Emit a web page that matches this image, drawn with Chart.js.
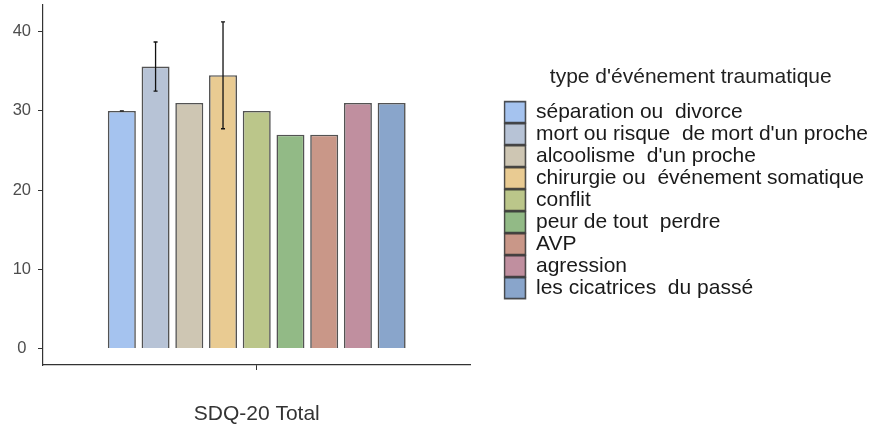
<!DOCTYPE html>
<html>
<head>
<meta charset="utf-8">
<script src="https://cdn.jsdelivr.net/npm/chart.js@4/dist/chart.umd.min.js"></script>
<style>
	body { margin: 0; background: #fff; }
	#wrap { width: 878px; height: 428px; }
</style>
</head>
<body>
<div id="wrap"><canvas id="chart" width="878" height="428"></canvas></div>
<script>
const categories = ["SDQ-20 Total"];
const eventTypes = [
	"séparation ou  divorce",
	"mort ou risque  de mort d'un proche",
	"alcoolisme  d'un proche",
	"chirurgie ou  événement somatique",
	"conflit",
	"peur de tout  perdre",
	"AVP",
	"agression",
	"les cicatrices  du passé"
];
const meanScores = [30, 35.6, 31, 34.5, 30, 27, 27, 31, 31];
const errorSizes = [0, 3.1, null, 6.75, null, null, null, null, null];
const yTicks = [0, 10, 20, 30, 40];
const barColors = ["#a5c3ef", "#b7c3d6", "#cec6b3", "#e9cb92", "#bbc68a", "#92ba86", "#c99788", "#c08f9f", "#89a5cb"];

const FONT = "'Liberation Sans', Arial, sans-serif";

// error bars, drawn through the y scale
const errorBars = {
	id: "errorBars",
	afterDatasetsDraw(chart)
	{
		let ctx = chart.ctx;
		let y = chart.scales.y;
		ctx.save();
		ctx.strokeStyle = "#111";
		ctx.lineWidth = 1.3;
		chart.data.datasets.forEach((ds, i) => {
			let err = errorSizes[i];
			if (err == null) return;
			let bar = chart.getDatasetMeta(i).data[0];
			let top = y.getPixelForValue(ds.data[0] + err);
			let bot = y.getPixelForValue(ds.data[0] - err);
			ctx.beginPath();
			ctx.moveTo(bar.x, top); ctx.lineTo(bar.x, bot);
			ctx.moveTo(bar.x - 2, top); ctx.lineTo(bar.x + 2, top);
			ctx.moveTo(bar.x - 2, bot); ctx.lineTo(bar.x + 2, bot);
			ctx.stroke();
		});
		ctx.restore();
	}
};

let datasets = eventTypes.map((name, i) => ({
	label: name,
	data: [meanScores[i]],
	backgroundColor: barColors[i],
	borderColor: "rgba(40,40,40,0.8)",
	borderWidth: 1.6,
	categoryPercentage: 0.71,
	barPercentage: 0.83
}));

new Chart(document.getElementById("chart"),
{
	type: "bar",
	data: { labels: categories, datasets: datasets },
	plugins: [errorBars],
	options:
	{
		responsive: false,
		animation: false,
		layout: { padding: { left: 0, top: 5, right: 0, bottom: 0 } },
		scales:
		{
			x:
			{
				grid: { offset: false, drawOnChartArea: false, drawTicks: true, tickLength: 5, color: "#333" },
				border: { display: true, color: "#333", width: 1.2 },
				ticks: { color: "#333", padding: 32, font: { family: FONT, size: 21 } },
				afterFit: (s) => { s.height = 63; s.paddingLeft = 0; s.paddingRight = 0; }
			},
			y:
			{
				min: -2.07,
				max: 43.37,
				afterBuildTicks: (axis) => axis.ticks = yTicks.map(v => ({ value: v })),
				grid: { drawOnChartArea: false, drawTicks: true, tickLength: 5, color: "#333" },
				border: { display: true, color: "#333", width: 1.2 },
				ticks: { color: "#4d4d4d", padding: 7, crossAlign: "center", font: { family: FONT, size: 16.5 } },
				afterFit: (s) => { s.width = 43; s.paddingTop = 0; s.paddingBottom = 0; }
			},
			gap:
			{
				// empty axis that only holds space between plot and legend
				type: "linear",
				position: "right",
				display: true,
				grid: { display: false },
				border: { display: false },
				ticks: { display: false },
				afterFit: (s) => { s.width = 33; s.paddingTop = 0; s.paddingBottom = 0; }
			}
		},
		plugins:
		{
			tooltip: { enabled: false },
			legend:
			{
				position: "right",
				align: "center",
				fullSize: false,
				maxWidth: 420,
				title: { display: true, text: "type d'événement traumatique", color: "#222", padding: { top: -4, bottom: 9 }, font: { family: FONT, size: 21 } },
				labels: { boxWidth: 21, boxHeight: 21, padding: 1, color: "#1a1a1a", font: { family: FONT, size: 21 } }
			}
		}
	}
});
</script>
</body>
</html>
